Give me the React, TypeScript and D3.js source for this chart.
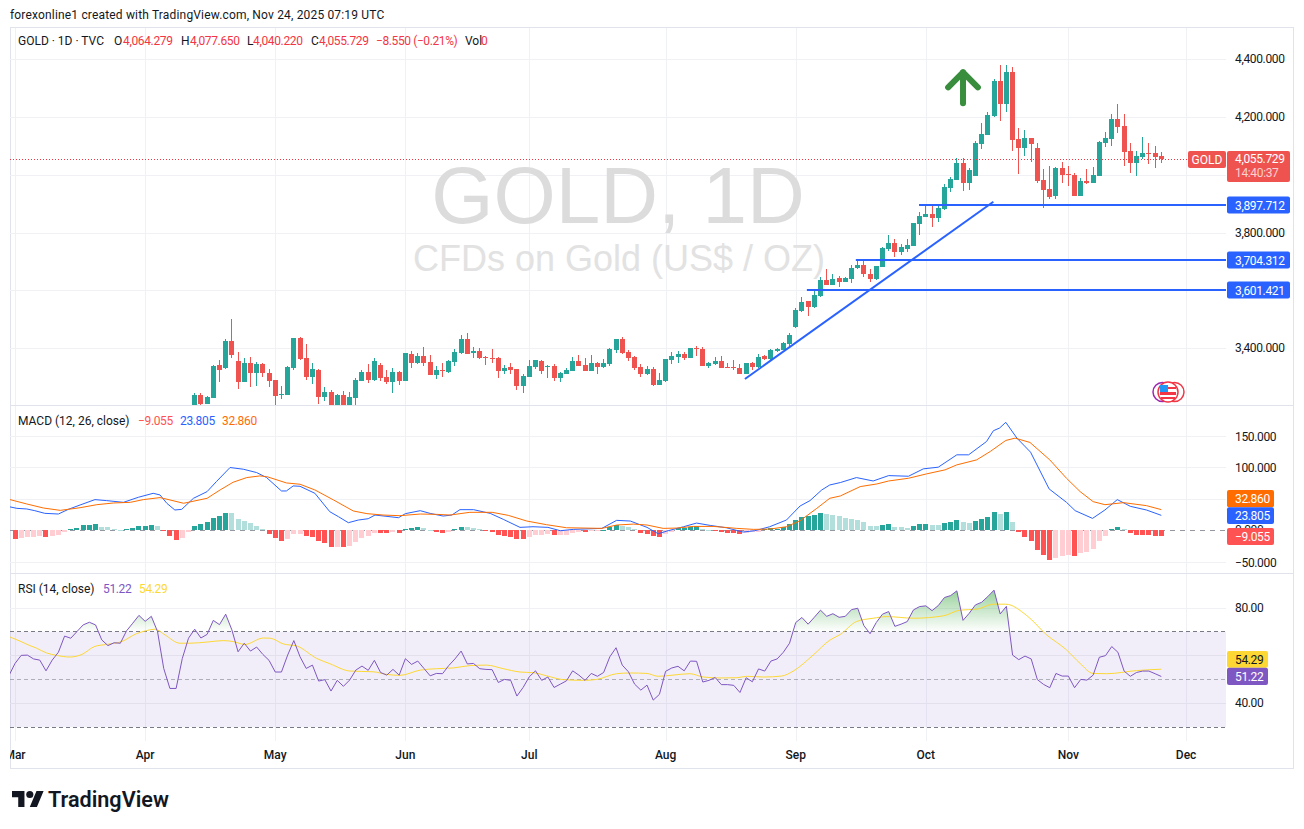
import React from 'react';
import * as d3 from 'd3';

// candles: index 0 is the first visible bar (mid April), last is Nov 24
const opens = [3195,3239,3208,3228,3342,3332,3425,3356,3284,3349,3315,3346,3315,3291,3239,3239,3332,3436,3366,3301,3325,3232,3249,3200,3239,3200,3228,3287,3318,3291,3342,3301,3284,3318,3287,3380,3349,3373,3353,3308,3325,3318,3353,3384,3432,3384,3391,3370,3366,3366,3322,3335,3328,3270,3301,3335,3356,3335,3339,3297,3311,3322,3356,3342,3322,3349,3335,3346,3394,3432,3387,3370,3335,3311,3328,3273,3287,3360,3370,3380,3366,3401,3398,3339,3346,3356,3334,3334,3332,3311,3349,3335,3373,3363,3391,3394,3415,3473,3529,3563,3543,3581,3636,3619,3643,3629,3639,3677,3688,3657,3639,3681,3743,3764,3733,3743,3753,3829,3854,3864,3850,3881,3954,3981,4040,3971,3995,4106,4137,4203,4323,4244,4355,4123,4092,4127,4092,3981,3950,3926,4023,4002,3999,3926,3978,3971,3995,4109,4123,4192,4168,4082,4040,4061,4075,4075,4064.279];
const highs = [3246,3246,3235,3342,3360,3432,3501,3387,3366,3370,3353,3349,3328,3291,3270,3339,3436,3439,3415,3349,3328,3266,3256,3242,3253,3249,3297,3325,3346,3366,3349,3325,3332,3322,3384,3391,3384,3405,3377,3339,3349,3360,3398,3446,3453,3405,3401,3373,3398,3370,3342,3349,3328,3311,3360,3360,3360,3342,3346,3318,3332,3370,3377,3366,3377,3353,3363,3401,3432,3439,3394,3373,3346,3339,3335,3315,3363,3387,3391,3387,3401,3408,3405,3353,3370,3373,3349,3360,3346,3349,3353,3380,3377,3398,3401,3422,3453,3539,3577,3563,3598,3646,3674,3657,3650,3646,3688,3705,3708,3674,3684,3750,3791,3778,3760,3778,3833,3871,3892,3895,3892,3968,3992,4057,4057,4023,4116,4178,4216,4330,4379,4379,4372,4161,4154,4127,4109,4019,4030,4026,4044,4030,4006,3988,4019,4026,4116,4147,4209,4244,4209,4109,4082,4130,4109,4099,4077.65];
const lows = [3190,3204,3208,3228,3284,3328,3366,3259,3284,3266,3270,3301,3266,3195,3225,3239,3325,3360,3291,3277,3208,3218,3195,3195,3195,3195,3195,3287,3280,3287,3287,3277,3246,3273,3287,3332,3346,3339,3308,3294,3301,3315,3339,3380,3380,3366,3363,3342,3349,3297,3311,3311,3256,3246,3301,3328,3311,3297,3287,3284,3311,3322,3339,3322,3322,3311,3332,3339,3384,3380,3356,3325,3301,3308,3270,3273,3284,3346,3349,3360,3366,3373,3339,3332,3342,3332,3332,3325,3311,3311,3325,3332,3360,3360,3387,3394,3404,3470,3525,3511,3539,3577,3619,3619,3612,3629,3625,3674,3646,3629,3636,3681,3736,3715,3722,3733,3753,3791,3854,3819,3836,3878,3940,3981,3943,3947,3995,4089,4137,4199,4185,4216,4082,4002,4064,4044,3971,3885,3916,3916,3971,3961,3926,3926,3968,3971,3995,4095,4099,4144,4030,4006,3995,4054,4037,4023,4040.22];
const closes = [3239,3208,3232,3339,3325,3425,3377,3284,3349,3315,3346,3315,3287,3235,3242,3335,3436,3363,3301,3328,3232,3249,3200,3239,3200,3232,3291,3318,3291,3356,3297,3284,3318,3287,3384,3349,3373,3349,3308,3325,3322,3356,3387,3432,3380,3391,3366,3366,3363,3322,3332,3325,3270,3304,3339,3360,3322,3339,3297,3315,3325,3356,3339,3322,3349,3335,3349,3398,3432,3384,3366,3332,3311,3328,3273,3291,3363,3373,3380,3366,3401,3400,3339,3349,3356,3332,3332,3332,3311,3349,3335,3370,3363,3394,3397,3418,3446,3532,3560,3543,3584,3636,3619,3639,3629,3643,3677,3688,3657,3639,3684,3746,3764,3733,3750,3757,3833,3857,3864,3850,3885,3957,3985,4040,3971,4016,4109,4140,4206,4323,4244,4355,4120,4092,4127,4106,3978,3947,3923,4023,3999,4000,3926,3978,3971,3999,4113,4127,4192,4165,4078,4040,4064,4075,4071,4061,4055.729];

// macd histogram starts at bar -29, flag 1 = full colour, 0 = pale
const histStart = -29;
const macdHist = [-13.2,-12.2,-10,-10,-8.5,-10.6,-9,-6.9,-2.1,2.6,4.2,7.9,7.9,10,5.8,5.8,2.1,0.5,2.6,4.2,6.9,6.9,8.5,6.9,-0.5,-9,-15.3,-12.2,-2.1,6.9,10,13.2,20.1,22.8,27.5,27.5,18,14.8,11.1,7.4,2.1,-5.8,-12.2,-16.9,-13.8,-5.8,-5.8,-9,-10.6,-16.9,-20.1,-26.5,-26.5,-26.5,-24.9,-18.5,-12.2,-9,-4.2,-4.2,-4.2,-2.6,-4.2,2.1,3.7,5.3,
  3.7,0.5,-2.1,-4.2,-2.6,2.1,5.3,5.3,3.7,2.1,-1.1,-2.6,-7.4,-9,-10.6,-13.8,-13.8,-10.6,-7.4,-7.4,-5.8,-7.4,-7.4,-7.4,-4.2,-2.1,-2.6,-1.1,-1.1,0.5,5.3,8.5,6.9,5.3,2.1,-4.2,-5.8,-9,-10.6,-5.8,-2.6,3.7,3.7,5.3,6.9,2.1,0.5,-1.1,-2.6,-4.2,-4.2,-5.8,-3.7,-3.2,-2.1,2.1,3.2,2.1,5.8,9.5,16.4,20.6,22.8,24.3,27.5,25.9,24.3,22.8,
  20.1,18,16.4,13.2,6.9,6.9,8.5,10,5.8,5.3,3.7,6.9,10,10,8.5,8.5,11.6,13.2,16.4,13.2,11.6,14.8,18,21.2,29.1,25.9,29.1,13.2,-2.6,-10.6,-16.9,-31.2,-39.2,-47.1,-43.9,-40.7,-39.2,-40.7,-36.5,-33.9,-29.6,-16.4,-9,2.1,5.3,2.1,-4.2,-7.4,-7.4,-7.4,-8.2,-9.055];
const histStrong = [1,0,0,0,0,1,0,0,0,1,1,1,1,1,0,0,0,0,1,1,1,1,1,0,1,1,1,0,0,1,1,1,1,1,1,0,0,0,0,0,0,1,1,1,0,0,0,1,1,1,1,1,0,1,0,0,0,0,0,1,1,0,1,1,1,1,
  0,0,1,1,0,1,1,0,0,0,1,1,1,1,1,1,1,0,0,0,0,1,0,0,0,0,1,0,0,1,1,1,0,0,0,1,1,1,1,0,0,1,1,1,1,0,0,1,1,1,1,1,0,0,0,1,1,1,1,1,1,1,1,1,1,0,0,0,
  0,0,0,0,0,0,1,1,0,0,0,1,1,1,0,0,1,1,1,0,0,1,1,1,1,0,1,0,1,1,1,1,1,1,0,0,0,1,0,0,0,0,0,1,1,0,1,1,1,1,1,1];

const macdLine: [number, number][] = [[-30,37.6],[-28.7,34.9],[-27.1,33.9],[-25.8,31.2],[-24.2,27],[-22,25.9],[-20.4,33.3],[-18.5,40.2],[-16.1,48.7],[-14.2,47.1],[-11.5,44.4],[-9.1,52.4],[-6.7,58.7],[-5.6,56.1],[-4.5,42.9],[-3.2,32.3],[-2.1,33.3],[-0.2,50.8],[2,61.4],[3.5,77.2],[5.7,99.5],[7.85,96.8],[10,91.5],[11.6,83.6],[14,62.4],[14.8,62.4],[15.9,70.4],[17,69.8],[19.4,58.7],[21.8,29.6],[23.2,21.7],[24.8,12.2],[26.4,16.4],[28,18.5],[29.1,24.3],[32.9,20.1],[34,26.5],[36.4,31.2],[38,26.9],[40.1,22.7],[41.5,24.3],[42.8,32.8],[45,32.8],[47.7,26.9],[49.8,17.5],[52.5,4.8],[54.6,5.8],[57,4.8],[59,-0.5],[61.1,1.6],[65.7,3.2],[68.1,15.9],[70.3,14.8],[73,4.8],[74.8,-5.3],[76.4,-0.5],[78.9,5.8],[81,11.6],[83.2,7.9],[85.8,4.2],[88.5,-2.6],[90.4,-0.5],[92.8,5.8],[95.5,16.4],[97.7,38.6],[99.3,47.1],[101.2,64],[102.5,71.9],[104.2,75.7],[106.8,83.6],[109.5,78.2],[112,86.7],[115.2,85.7],[117.6,97.4],[120,100],[123,119.6],[124.9,119.6],[127.8,140.7],[128.9,157.7],[129.9,162],[130.9,171],[132.7,146],[134.9,123.8],[137.9,65.6],[140.7,44.4],[142.1,31.2],[144.9,19],[146.9,32.3],[148.9,48.7],[151,38.1],[153.6,32.3],[156,23.805]];
const signalLine: [number, number][] = [[-30,49.2],[-27.1,41.8],[-24.4,35.4],[-21.7,31.7],[-18.5,35.9],[-15.8,40.7],[-13.1,43.4],[-10.4,44.4],[-8.3,48.7],[-5.6,51.9],[-4,48.2],[-1.8,42.9],[2,50.8],[4.1,64],[6.2,76.2],[8.4,83.6],[10.5,86.2],[11.6,85.2],[14.8,75.1],[17,73],[19.4,64],[22.4,48.2],[25.6,30.7],[27.8,26.5],[30.4,24.3],[33.1,23.3],[36.4,25.9],[39,25.4],[41.2,24.3],[44.4,28.6],[48,28.6],[50.6,23.8],[53.6,14.8],[56.8,9],[60,4.2],[65.7,3.2],[68.1,8.5],[70.8,10],[73,8.5],[75.6,3.2],[77.8,3.7],[80.5,6.3],[83.7,6.3],[87.5,3.2],[90.2,1.6],[92.8,2.1],[95.5,5.8],[97.7,15.3],[100.4,34.9],[102.5,50.8],[104.2,54.5],[107.4,69.3],[110.1,73.5],[112,78.2],[115.2,82.5],[118.1,89.4],[121.1,95.8],[123,103.7],[126.2,111.6],[128.4,124.9],[130.9,142.3],[132.4,146],[134.8,139.2],[138,111.6],[140.7,82.5],[142.9,61.4],[145,45.5],[146.9,40.7],[149.9,43.9],[153.6,39.2],[156,32.86]];

// rsi has one value per bar from bar -30
const rsiStart = -30;
const rsiValues = [51.5,56.7,60.1,60.2,58.6,58.1,53.6,58.1,61.4,68.2,67.3,70.1,72.9,74,72.9,66.6,64.2,65.4,65.2,70.4,73.6,76.9,74.4,76.5,70.1,54.6,46.2,46.2,58.8,67.3,71.1,67.4,68.9,74.8,73,77.4,70.8,61.6,65.2,61.9,63.6,60.5,58,53.1,53.1,60.2,66.3,59.5,54.6,56,49.3,49.9,45.1,49.6,47.1,49.7,53.9,55.6,53.8,58,52.9,51.8,54.2,51.8,58.7,56.3,57.7,
  54.6,51.5,52.5,52.4,55.8,58.6,61.9,56.5,56.7,54.5,54.2,54.1,48.7,50,49.6,43,46.6,51.1,53.6,49.6,51,46.6,48,49.4,53.6,51.8,49.6,52.5,51.3,52.9,59.5,63.3,56,53.2,48,45.5,47.6,41.3,43.7,53.4,54.8,55.5,53.6,57.7,57.6,48.9,49.6,50.8,47.8,47.8,47.5,44.5,50.7,49,54.4,53.5,57.7,58.6,61.4,65.2,73.9,76,73.2,76.1,79.1,76.5,77.6,76.1,
  76.5,79.3,79.9,72.6,69.2,73.9,77.4,78.5,72.3,73.2,74.3,79.2,80.6,80.9,78.9,81,84.4,85.2,87.2,74.8,77.8,81.3,82.4,84.8,87.5,77.5,80.7,60.2,58.3,59.8,58.6,49.9,47.9,46.5,52.5,51.4,51.4,46.5,50,49.7,51.8,59.3,60,63.8,61.4,53.5,51.3,52.9,53.5,53.5,52.4,51.22];
const rsiMa: [number, number][] = [[-30,68],[-28.2,66.1],[-26.6,64.2],[-25.5,63.1],[-23.9,61.1],[-22.3,60.1],[-20.1,59.4],[-18.2,60.5],[-16.1,63.9],[-14.2,64.7],[-11.8,65.9],[-9.4,69.2],[-7.8,70.5],[-6.4,71.1],[-4.8,68.7],[-2.4,65.2],[-0.8,65.2],[2,65.7],[4.6,66.3],[6.2,65.9],[8.1,64.7],[11.1,67.4],[12.2,67.3],[14.3,64.9],[16.5,64],[19.7,58.8],[21.8,56.6],[25.1,53.5],[28.8,53.2],[31,52.1],[33.1,51.7],[36.4,53.9],[39,54.5],[41.7,54.8],[44.4,55.8],[47.1,56],[49.8,54.5],[52.5,53.1],[54.7,52.8],[56.8,51.5],[59.5,49.9],[62.7,49.6],[64.9,50],[68.1,52.4],[70.3,52.7],[73,52.5],[74.8,51.3],[77.2,51.8],[79.9,52.4],[82.1,51],[84.8,50.6],[87.5,50.7],[89.1,51.3],[91.8,51],[94.7,51.4],[96.6,53.5],[99.8,60.2],[102.5,66.5],[104.2,68.9],[106.8,74.3],[109.5,75.7],[111.7,76.4],[116,75.7],[120.8,76.7],[123.5,79.1],[126.2,79.5],[128.9,81.6],[130.9,81.6],[134.3,76.8],[137.5,68.7],[140.7,62.4],[142.9,56.7],[145,52.5],[147.2,52.4],[152,53.7],[156,54.29]];

const monthLabels = ['Mar','Apr','May','Jun','Jul','Aug','Sep','Oct','Nov','Dec'];
const monthBars = [-29,-8,13,34,54,76,97,118,141,160];
const priceGrid = [3400,3600,3800,4000,4200,4400];
const priceTicks = [3400,3800,4200,4400];
const macdGrid = [-50,50,100,150];
const macdTicks = [-50,100,150];
const rsiGrid = [40,60,80];
const rsiTicks = [40,80];

// drawn levels [price, first bar]
const levels: [number, number][] = [[3897.712,116.9],[3704.312,106.7],[3601.421,98.8]];
const trendFrom: [number, number] = [88.8,3294];
const trendTo: [number, number] = [128.9,3906.5];
const arrowBar = 124;
const arrowTip = 4354;
const arrowTail = 4247;
const arrowWing = 4302;
const lastPrice = 4055.729;

const W = 1304, H = 829;
const left = 10, axisX = 1226, right = 1293;
const FONT = "Roboto, 'Noto Sans', sans-serif";
const DARK = '#131722';
const UP = '#26a69a', DOWN = '#ef5350';
const BLUE = '#2962ff', ORANGE = '#ff6d00', PURPLE = '#7e57c2', YELLOW = '#fdd835';
const GRID = '#f0f1f5';
const TIGHT = -0.35; // digits in the reference run narrower than Roboto's

const x = d3.scaleLinear().domain([0, 156]).range([194.7, 1161.3]);
const py = d3.scaleLinear().domain([3400, 4400]).range([348.3, 59]);
const my = d3.scaleLinear().domain([-50, 150]).range([562, 435.6]);
const ry = d3.scaleLinear().domain([30, 80]).range([727, 608]);
const levelY = (p: number) => Math.round(py(p) + 0.2);

const fmtPrice = d3.format(',.3f');
const fmtMacd = (v: number) => d3.format('.3f')(v).replace('-', '\u2212');

const macdPath = d3.line<[number, number]>().x(d => x(d[0])).y(d => my(d[1]));
const rsiMaPath = d3.line<[number, number]>().x(d => x(d[0])).y(d => ry(d[1])).curve(d3.curveMonotoneX);
const rsiPoints = rsiValues.map((v, i) => [i + rsiStart, v] as [number, number]);
const rsiPath = d3.line<[number, number]>().x(d => x(d[0])).y(d => ry(d[1]));
const rsiArea = d3.area<[number, number]>().x(d => x(d[0])).y0(ry(70)).y1(d => ry(d[1]));

const Label = ({ t, px, y, fill = DARK, anchor = 'start', size = 12, weight = 400, ls = 0 }: any) => (
  <text x={px} y={y} fill={fill} textAnchor={anchor} fontSize={size} fontWeight={weight} letterSpacing={ls} dominantBaseline="central">{t}</text>
);

const Tag = ({ t, y0, y1, fill, color = '#fff', x0 = 1227, x1 = 1290 }: any) => (
  <g>
    <rect x={x0} y={y0} width={x1 - x0} height={y1 - y0} rx={2} fill={fill} />
    <Label t={t} px={1235} y={(y0 + y1) / 2 + 0.5} fill={color} ls={TIGHT} />
  </g>
);

const UsFlag = () => (
  <g>
    <circle cx={1162.5} cy={392} r={9.5} fill="#fff" stroke="#9c27b0" strokeWidth={1.5} />
    <circle cx={1174.5} cy={392} r={9.5} fill="#fff" stroke="#f23645" strokeWidth={1.5} />
    <circle cx={1168} cy={392} r={10} fill="#fff" stroke="#f23645" strokeWidth={1.5} />
    <rect x={1160} y={387} width={16} height={2} fill="#f23645" />
    <rect x={1160} y={392} width={16} height={3} fill="#f23645" />
    <rect x={1161} y={397} width={14} height={2} fill="#f23645" />
    <rect x={1160} y={385} width={8} height={7} fill="#2196f3" />
  </g>
);

export default function App() {
  const arrowX = x(arrowBar);
  return (
    <svg width={W} height={H} fontFamily={FONT} style={{ position: 'absolute', left: 0, top: 0, background: '#fff' }}>
      <defs>
        <clipPath id="main"><rect x={left} y={28} width={axisX - left} height={377} /></clipPath>
        <clipPath id="macd"><rect x={left} y={406} width={axisX - left} height={167} /></clipPath>
        <clipPath id="rsi"><rect x={left} y={574} width={axisX - left} height={167} /></clipPath>
        <clipPath id="over"><rect x={left} y={574} width={axisX - left} height={ry(70) - 574} /></clipPath>
        <clipPath id="dates"><rect x={left} y={741} width={axisX - left} height={27} /></clipPath>
        <linearGradient id="overFill" gradientUnits="userSpaceOnUse" x1={0} x2={0} y1={ry(90)} y2={ry(70)}>
          <stop offset="0" stopColor="#4caf50" stopOpacity={0.65} />
          <stop offset="1" stopColor="#4caf50" stopOpacity={0} />
        </linearGradient>
      </defs>

      <text x={10} y={15} fontSize={12} fill={DARK} letterSpacing={0.17} dominantBaseline="central">forexonline1 created with TradingView.com, Nov 24, 2025 07:19 UTC</text>

      {/* frame + month grid */}
      <rect x={left + 0.5} y={27.5} width={right - left} height={741} fill="none" stroke="#e0e3eb" />
      {monthBars.map(m => (
        <line key={m} x1={Math.round(x(m)) + 0.5} x2={Math.round(x(m)) + 0.5} y1={28} y2={741} stroke={GRID} />
      ))}

      {/* price grid */}
      {priceGrid.map(p => <line key={p} x1={left} x2={axisX} y1={Math.round(py(p)) + 0.5} y2={Math.round(py(p)) + 0.5} stroke={GRID} />)}

      {/* watermark */}
      <text x={618} y={223} textAnchor="middle" fontSize={80} fill="#dcdcdc" fontFamily="'Liberation Sans', sans-serif">GOLD, 1D</text>
      <text x={619} y={271} textAnchor="middle" fontSize={36} fill="#e2e2e2" fontFamily="'Liberation Sans', sans-serif">CFDs on Gold (US$ / OZ)</text>

      {/* candles */}
      <g clipPath="url(#main)" shapeRendering="crispEdges">
        {closes.map((c, i) => {
          const o = opens[i];
          const col = c >= o ? UP : DOWN;
          const bx = Math.round(x(i) - 2.5);
          const top = Math.round(py(Math.max(o, c)));
          const bot = Math.round(py(Math.min(o, c)));
          const wt = Math.round(py(highs[i]));
          const wb = Math.round(py(lows[i]));
          return (
            <g key={i} fill={col}>
              <rect x={bx + 2} y={wt} width={1} height={Math.max(wb - wt, 1)} />
              <rect x={bx} y={top} width={5} height={Math.max(bot - top, 1)} />
            </g>
          );
        })}
      </g>

      {/* last price dotted line */}
      <line x1={left} x2={1188} y1={Math.round(py(lastPrice)) + 0.5} y2={Math.round(py(lastPrice)) + 0.5} stroke="#f23645" strokeDasharray="1 2" />

      {/* drawings */}
      {levels.map(([p, b]) => (
        <line key={p} x1={x(b)} x2={axisX} y1={levelY(p)} y2={levelY(p)} stroke={BLUE} strokeWidth={2} />
      ))}
      <line x1={x(trendFrom[0])} y1={py(trendFrom[1])} x2={x(trendTo[0])} y2={py(trendTo[1])} stroke={BLUE} strokeWidth={2} />
      <g stroke="#388e3c" strokeWidth={6} strokeLinecap="round" strokeLinejoin="round" fill="none">
        <line x1={arrowX} x2={arrowX} y1={py(arrowTip)} y2={py(arrowTail)} />
        <polyline points={`${x(arrowBar - 2.4)},${py(arrowWing)} ${arrowX},${py(arrowTip)} ${x(arrowBar + 2.4)},${py(arrowWing)}`} />
      </g>
      <UsFlag />

      {/* header */}
      <Label t="GOLD · 1D · TVC" px={18} y={41} />
      <Label t="O" px={114} y={41} />
      <Label t="4,064.279" px={123} y={41} fill="#f23645" ls={TIGHT} />
      <Label t="H" px={181} y={41} />
      <Label t="4,077.650" px={190} y={41} fill="#f23645" ls={TIGHT} />
      <Label t="L" px={247} y={41} />
      <Label t="4,040.220" px={253} y={41} fill="#f23645" ls={TIGHT} />
      <Label t="C" px={311} y={41} />
      <Label t={'4,055.729'} px={319} y={41} fill="#f23645" ls={TIGHT} />
      <Label t={'\u22128.550 (\u22120.21%)'} px={376} y={41} fill="#f23645" ls={-0.4} />
      <Label t="Vol" px={465} y={41} />
      <Label t="0" px={481} y={41} fill="#f23645" />

      {/* price axis */}
      {priceTicks.map(p => <Label key={p} t={fmtPrice(p)} px={1235} y={py(p)} ls={TIGHT} />)}
      <rect x={1188} y={151} width={38} height={17} rx={2} fill={DOWN} />
      <Label t="GOLD" px={1207} y={159.5} fill="#fff" anchor="middle" />
      <rect x={1227} y={151} width={63} height={31} rx={2} fill={DOWN} />
      <Label t={fmtPrice(lastPrice)} px={1235} y={159} fill="#fff" ls={TIGHT} />
      <Label t="14:40:37" px={1235} y={173} fill="#fbd0d0" ls={TIGHT} />
      {levels.map(([p]) => (
        <Tag key={p} t={fmtPrice(p)} y0={levelY(p) - 8.5} y1={levelY(p) + 8.5} fill={BLUE} />
      ))}

      <line x1={left} x2={right} y1={405.5} y2={405.5} stroke="#e0e3eb" />
      <line x1={left} x2={right} y1={573.5} y2={573.5} stroke="#e0e3eb" />

      {/* macd pane */}
      {macdGrid.map(v => <line key={v} x1={left} x2={axisX} y1={Math.round(my(v)) + 0.5} y2={Math.round(my(v)) + 0.5} stroke={GRID} />)}
      <line x1={left} x2={axisX} y1={Math.round(my(0)) + 0.5} y2={Math.round(my(0)) + 0.5} stroke="#9598a1" strokeDasharray="5 5" />
      <g clipPath="url(#macd)">
        <g shapeRendering="crispEdges">
          {macdHist.map((v, i) => {
            const b = i + histStart;
            const strong = histStrong[i] === 1;
            const col = v >= 0 ? (strong ? UP : '#b2dfdb') : (strong ? '#ff5252' : '#ffcdd2');
            const y0 = Math.round(my(0)), y1 = Math.round(my(v));
            return <rect key={b} x={Math.round(x(b) - 2.5)} y={Math.min(y0, y1)} width={5} height={Math.max(Math.abs(y1 - y0), 1)} fill={col} />;
          })}
        </g>
        <path d={macdPath(macdLine)!} fill="none" stroke={BLUE} />
        <path d={macdPath(signalLine)!} fill="none" stroke={ORANGE} />
      </g>
      <Label t="MACD (12, 26, close)" px={18} y={420.5} />
      <Label t={'\u22129.055'} px={138} y={420.5} fill="#ff5252" ls={TIGHT} />
      <Label t="23.805" px={180} y={420.5} fill={BLUE} ls={TIGHT} />
      <Label t="32.860" px={222} y={420.5} fill={ORANGE} ls={TIGHT} />
      {macdTicks.map(v => <Label key={v} t={fmtMacd(v)} px={1235} y={Math.round(my(v)) + 0.5} ls={TIGHT} />)}
      <Label t="0.000" px={1235} y={my(0)} ls={TIGHT} />
      <Tag t="32.860" y0={490} y1={507.3} fill={ORANGE} x1={1274} />
      <Tag t="23.805" y0={507.3} y1={524} fill={BLUE} x1={1274} />
      <Tag t={'\u22129.055'} y0={528} y1={545} fill="#ff5252" x1={1274} />

      {/* rsi pane */}
      <rect x={left} y={ry(70)} width={axisX - left} height={ry(30) - ry(70)} fill={PURPLE} fillOpacity={0.1} />
      {rsiGrid.map(v => <line key={v} x1={left} x2={axisX} y1={Math.floor(ry(v)) + 0.5} y2={Math.floor(ry(v)) + 0.5} stroke={v === 80 ? GRID : '#e3e0ee'} />)}
      <line x1={left} x2={axisX} y1={Math.floor(ry(70)) + 0.5} y2={Math.floor(ry(70)) + 0.5} stroke="#787b86" strokeDasharray="4 3" />
      <line x1={left} x2={axisX} y1={Math.floor(ry(50)) + 0.5} y2={Math.floor(ry(50)) + 0.5} stroke="#787b86" strokeOpacity={0.55} strokeDasharray="4 3" />
      <line x1={left} x2={axisX} y1={Math.floor(ry(30)) + 0.5} y2={Math.floor(ry(30)) + 0.5} stroke="#787b86" strokeDasharray="4 3" />
      <g clipPath="url(#rsi)">
        <path d={rsiArea(rsiPoints)!} fill="url(#overFill)" clipPath="url(#over)" />
        <path d={rsiMaPath(rsiMa)!} fill="none" stroke={YELLOW} />
        <path d={rsiPath(rsiPoints)!} fill="none" stroke={PURPLE} />
      </g>
      <Label t="RSI (14, close)" px={18} y={589} />
      <Label t="51.22" px={103} y={589} fill={PURPLE} ls={TIGHT} />
      <Label t="54.29" px={139} y={589} fill={YELLOW} ls={TIGHT} />
      {rsiTicks.map(v => <Label key={v} t={d3.format('.2f')(v)} px={1235} y={ry(v)} ls={TIGHT} />)}
      <Tag t="54.29" y0={651} y1={667.7} fill={YELLOW} color={DARK} x1={1268} />
      <Tag t="51.22" y0={667.7} y1={685} fill={PURPLE} x1={1268} />

      {/* date axis */}
      <g clipPath="url(#dates)">
        {monthLabels.map((m, i) => <Label key={m} t={m} px={x(monthBars[i])} y={755} anchor="middle" weight={500} />)}
      </g>

      {/* tradingview logo */}
      <g transform="translate(12,787.4) scale(0.89)" fill={DARK}>
        <path d="M14 22H7V11H0V4h14v18zM28 22h-8l7.5-18h8L28 22z" />
        <circle cx={20} cy={8} r={4} />
      </g>
      <text x={48} y={799} fontSize={21.6} fontWeight={600} fill={DARK} dominantBaseline="central">TradingView</text>
    </svg>
  );
}
